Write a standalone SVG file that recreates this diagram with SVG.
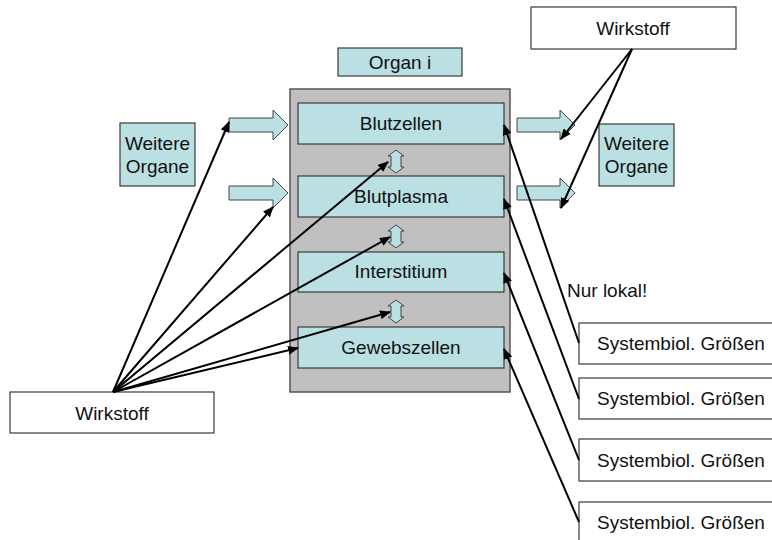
<svg xmlns="http://www.w3.org/2000/svg" width="772" height="540" viewBox="0 0 772 540">
<style>
  text { font-family: "Liberation Sans", Arial, sans-serif; font-size: 19px; fill: #111; }
  .c { text-anchor: middle; }
  .cyan { fill: #bbe0e3; stroke: #3a3a3a; stroke-width: 1.2; }
  .white { fill: #fff; stroke: #3a3a3a; stroke-width: 1.2; }
  .gray { fill: #c0c0c0; stroke: #555; stroke-width: 1.5; }
  .blk { fill: #bbe0e3; stroke: #444; stroke-width: 1; }
  .ln { stroke: #000; stroke-width: 2; fill: none; marker-end: url(#ah); }
</style>
<defs>
  <marker id="ah" markerUnits="userSpaceOnUse" markerWidth="11" markerHeight="9" viewBox="0 0 11 9" refX="10" refY="4.5" orient="auto">
    <path d="M0,0 L11,4.5 L0,9 Z" fill="#000"/>
  </marker>
</defs>

<g id="organ-label">
  <rect class="cyan" x="338" y="48" width="124" height="28"/>
  <text class="c" x="400" y="69">Organ i</text>
</g>

<g id="organ">
  <rect class="gray" x="290" y="89" width="220" height="303"/>
</g>

<g id="blutzellen">
  <rect class="cyan" x="298" y="103" width="206" height="41"/>
  <text class="c" x="401" y="130">Blutzellen</text>
</g>
<g id="blutplasma">
  <rect class="cyan" x="298" y="176" width="206" height="41"/>
  <text class="c" x="401" y="203">Blutplasma</text>
</g>
<g id="interstitium">
  <rect class="cyan" x="298" y="252" width="206" height="40"/>
  <text class="c" x="401" y="278">Interstitium</text>
</g>
<g id="gewebszellen">
  <rect class="cyan" x="298" y="327" width="206" height="41"/>
  <text class="c" x="401" y="354">Gewebszellen</text>
</g>

<g id="exchange-arrows">
  <path class="blk" d="M396,150 L404,156 H401 V167 H404 L396,173 L388,167 H391 V156 H388 Z"/>
  <path class="blk" d="M396,225 L404,231 H401 V242 H404 L396,248 L388,242 H391 V231 H388 Z"/>
  <path class="blk" d="M396,300 L404,306 H401 V317 H404 L396,323 L388,317 H391 V306 H388 Z"/>
</g>

<g id="inflow-arrows">
  <path class="blk" d="M229,118 H273 V110 L288,125 L273,140 V132 H229 Z"/>
  <path class="blk" d="M229,186 H273 V178 L288,193 L273,208 V200 H229 Z"/>
</g>
<g id="outflow-arrows">
  <path class="blk" d="M517,118 H560 V110 L575,125 L560,140 V132 H517 Z"/>
  <path class="blk" d="M517,186 H560 V178 L575,193 L560,208 V200 H517 Z"/>
</g>

<g id="weitere-organe-left">
  <rect class="cyan" x="120" y="123" width="75" height="63"/>
  <text class="c" x="157.5" y="150">Weitere</text>
  <text class="c" x="157.5" y="173">Organe</text>
</g>
<g id="weitere-organe-right">
  <rect class="cyan" x="599" y="124" width="75" height="62"/>
  <text class="c" x="636.5" y="150">Weitere</text>
  <text class="c" x="636.5" y="173">Organe</text>
</g>

<g id="wirkstoff-top">
  <rect class="white" x="531" y="7" width="205" height="42"/>
  <text class="c" x="633" y="35">Wirkstoff</text>
</g>
<g id="wirkstoff-bottom">
  <rect class="white" x="10" y="392" width="204" height="41"/>
  <text class="c" x="112" y="420">Wirkstoff</text>
</g>

<g id="systembiol-1">
  <rect class="white" x="579" y="323" width="200" height="41"/>
  <text x="597" y="350">Systembiol. Größen</text>
</g>
<g id="systembiol-2">
  <rect class="white" x="579" y="378" width="200" height="41"/>
  <text x="597" y="405">Systembiol. Größen</text>
</g>
<g id="systembiol-3">
  <rect class="white" x="579" y="439" width="200" height="42"/>
  <text x="597" y="467">Systembiol. Größen</text>
</g>
<g id="systembiol-4">
  <rect class="white" x="579" y="502" width="200" height="45"/>
  <text x="597" y="529">Systembiol. Größen</text>
</g>

<g id="connectors">
  <line class="ln" x1="113" y1="392" x2="229" y2="122"/>
  <line class="ln" x1="113" y1="392" x2="273" y2="207"/>
  <line class="ln" x1="113" y1="392" x2="388" y2="162"/>
  <line class="ln" x1="113" y1="392" x2="390" y2="237"/>
  <line class="ln" x1="113" y1="392" x2="390" y2="312"/>
  <line class="ln" x1="113" y1="392" x2="298" y2="348"/>
  <line class="ln" x1="632" y1="49" x2="561" y2="139"/>
  <line class="ln" x1="632" y1="49" x2="561" y2="208"/>
  <line class="ln" x1="579" y1="343" x2="504" y2="125"/>
  <line class="ln" x1="579" y1="399" x2="504" y2="199"/>
  <line class="ln" x1="579" y1="460" x2="504" y2="273"/>
  <line class="ln" x1="579" y1="522" x2="504" y2="349"/>
  <text x="567" y="297">Nur lokal!</text>
</g>
</svg>
